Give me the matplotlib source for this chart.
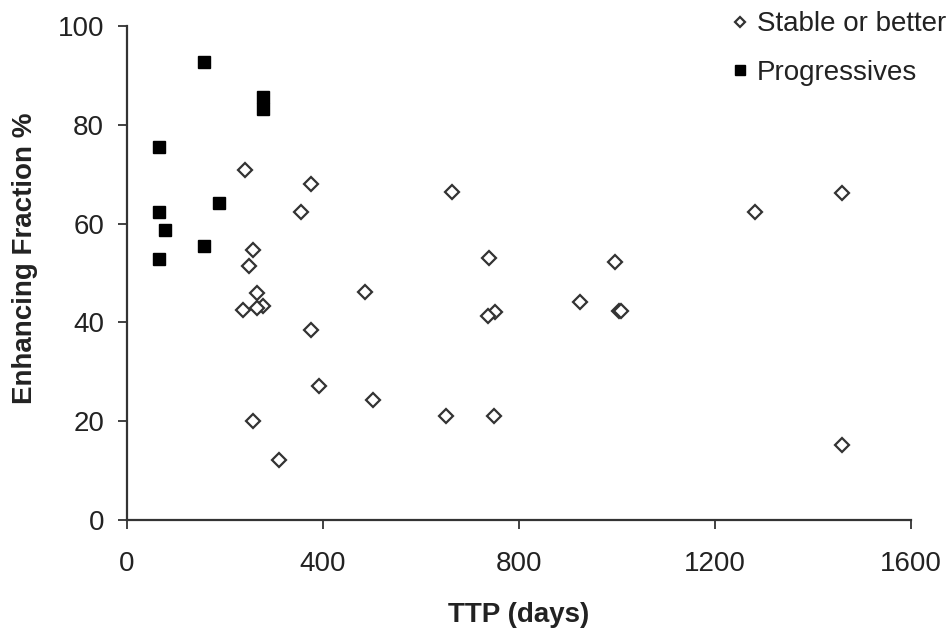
import matplotlib
matplotlib.use("Agg")
import matplotlib.pyplot as plt

plt.rcParams['font.family'] = ['Liberation Sans', 'DejaVu Sans']

# Stable or better (open diamonds)
stable_ttp = [241, 376, 664, 1459, 356, 1281, 257, 738, 995, 249, 486, 266, 924,
              278, 266, 237, 750, 1004, 1009, 736, 376, 392, 503, 652, 748, 257, 311, 1459]
stable_ef = [70.9, 68.0, 66.4, 66.2, 62.3, 62.3, 54.7, 53.0, 52.2, 51.4, 46.2, 46.0, 44.1,
             43.3, 42.9, 42.5, 42.1, 42.3, 42.3, 41.3, 38.5, 27.1, 24.3, 21.1, 21.1, 20.0, 12.1, 15.2]

# Progressives (filled squares)
prog_ttp = [65, 157, 278, 278, 65, 188, 78, 157, 65]
prog_ef = [75.5, 92.7, 85.6, 83.2, 62.3, 64.2, 58.7, 55.5, 52.8]

x_ticks = [0, 400, 800, 1200, 1600]
y_ticks = [0, 20, 40, 60, 80, 100]

fig = plt.figure(figsize=(9.49, 6.32), dpi=100)
ax = fig.add_axes([0.1338, 0.1772, 0.8262, 0.7817])

ax.plot(stable_ttp, stable_ef, linestyle='none', marker='D', markersize=7,
        markerfacecolor='white', markeredgecolor='#333333', markeredgewidth=1.6,
        label='Stable or better', clip_on=False)
ax.plot(prog_ttp, prog_ef, linestyle='none', marker='s', markersize=9,
        markerfacecolor='black', markeredgecolor='black',
        label='Progressives', clip_on=False)

ax.set_xlim(0, 1600)
ax.set_ylim(0, 100)
ax.set_xticks(x_ticks)
ax.set_yticks(y_ticks)
ax.spines['top'].set_visible(False)
ax.spines['right'].set_visible(False)
for s in ('left', 'bottom'):
    ax.spines[s].set_linewidth(1.6)
    ax.spines[s].set_color('#333333')
ax.tick_params(axis='both', direction='out', length=6.5, width=1.3, colors='#333333',
               labelsize=20, labelcolor='#222222')
ax.tick_params(axis='x', pad=16)
ax.tick_params(axis='y', pad=10)

ax.set_xlabel('TTP (days)', fontsize=20, fontweight='bold', labelpad=18, color='#222222')
ax.set_ylabel('Enhancing Fraction %', fontsize=20, fontweight='bold', color='#222222')
ax.yaxis.set_label_coords(-0.114, 0.53)

leg = fig.legend(loc='upper left', bbox_to_anchor=(0.765, 0.982), frameon=False,
                 fontsize=20, handletextpad=0.1, handlelength=1.0, labelspacing=0.82,
                 markerscale=0.8, borderaxespad=0, borderpad=0)
for t in leg.get_texts():
    t.set_color('#222222')

fig.savefig('out.png', dpi=100)
